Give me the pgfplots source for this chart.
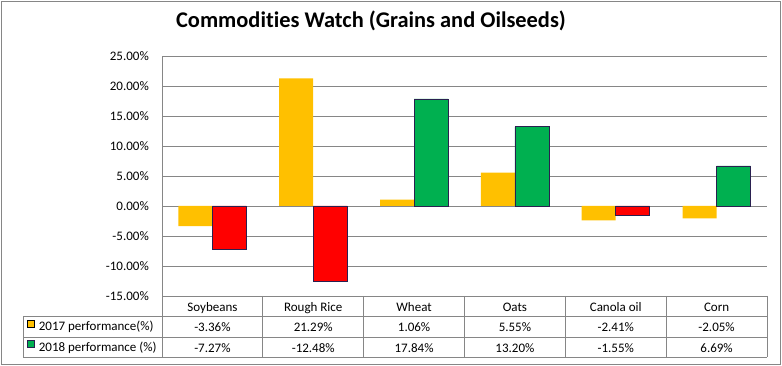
\documentclass[border=0pt]{standalone}
\usepackage{fontspec}
\setmainfont{Carlito}[Ligatures={NoCommon}]
\usepackage{pgfplots}
\usepackage{pgfplotstable}
\pgfplotsset{compat=1.18}
\definecolor{cyel}{HTML}{FFC000}
\definecolor{cred}{HTML}{FF0000}
\definecolor{cgrn}{HTML}{00B050}
\definecolor{cgrid}{HTML}{868686}
\definecolor{cedge}{HTML}{2A2050}

\pgfplotstableread{
idx name y17 y18
0 Soybeans -3.36 -7.27
1 {Rough Rice} 21.29 -12.48
2 Wheat 1.06 17.84
3 Oats 5.55 13.20
4 {Canola oil} -2.41 -1.55
5 Corn -2.05 6.69
}\datatable

\newcommand{\tabfont}{\fontsize{13bp}{15bp}\selectfont}

\begin{document}
\begin{tikzpicture}
\path[use as bounding box] (0,0) rectangle (782bp,366bp);
\draw[cgrid, line width=1bp] (1.5bp,1.5bp) rectangle (780bp,364.5bp);
\node[font=\fontsize{22.4bp}{26bp}\selectfont\bfseries, anchor=base, inner sep=0] at (371bp,338bp) {Commodities Watch (Grains and Oilseeds)};
\begin{axis}[
  at={(162bp,70bp)}, anchor=south west,
  scale only axis, width=605bp, height=240bp,
  xmin=-0.5, xmax=5.5, ymin=-15, ymax=25,
  ytick={-15,-10,...,25},
  xtick={0,...,5},
  xticklabels from table={\datatable}{name},
  ybar, bar width=34bp,
  axis lines*=left,
  axis line style={cgrid, line width=0.8bp},
  ymajorgrids, grid style={cgrid, line width=0.8bp},
  major tick length=0pt,
  clip=false,
  /pgf/number format/assume math mode=true,
  yticklabel={\pgfmathprintnumber[fixed,fixed zerofill,precision=2]{\tick}\%},
  yticklabel style={font=\tabfont, anchor=east, inner xsep=0pt, xshift=-13bp},
  xticklabel style={font=\tabfont, anchor=base, yshift=-15bp},
  legend image code/.code={\draw[#1] (0bp,0bp) rectangle (7.5bp,7bp);},
  legend style={at={(axis description cs:-0.2236,-0.0875)}, anchor=north west,
    draw=none, fill=none, inner sep=0pt, outer sep=0pt, row sep=0pt, column sep=4bp,
    font=\tabfont, nodes={inner sep=0pt, text height=14bp, text depth=6.5bp}},
  legend cell align=left,
]
\addplot[fill=cyel, draw=none, bar shift=-17bp] table[x=idx, y=y17] {\datatable};
\addlegendentry{2017 performance(\%)}
\addplot[fill=cgrn, draw=cedge, line width=0.6bp, bar shift=17bp, restrict y to domain=0:100] table[x=idx, y=y18] {\datatable};
\addlegendentry{2018 performance (\%)}
\addplot[fill=cred, draw=cedge, line width=0.6bp, bar shift=17bp, restrict y to domain=-100:0, forget plot] table[x=idx, y=y18] {\datatable};
\end{axis}
% data table grid
\begin{scope}[cgrid, line width=0.8bp]
\draw (23bp,49.5bp) -- (767bp,49.5bp);
\draw (23bp,29bp) -- (767bp,29bp);
\draw (23bp,8.5bp) -- (767bp,8.5bp);
\draw (23bp,49.5bp) -- (23bp,8.5bp);
\foreach \k in {0,...,6}{
  \draw ({162bp+100.8333bp*\k},70bp) -- ({162bp+100.8333bp*\k},8.5bp);
}
\end{scope}
\foreach \i in {0,...,5}{
  \pgfplotstablegetelem{\i}{y17}\of\datatable
  \let\va\pgfplotsretval
  \pgfplotstablegetelem{\i}{y18}\of\datatable
  \let\vb\pgfplotsretval
  \node[font=\tabfont, anchor=base, inner sep=0pt] at ({162bp+100.8333bp*(\i+0.5)},34.5bp)
    {\pgfmathprintnumber[fixed,fixed zerofill,precision=2,assume math mode=true]{\va}\%};
  \node[font=\tabfont, anchor=base, inner sep=0pt] at ({162bp+100.8333bp*(\i+0.5)},14bp)
    {\pgfmathprintnumber[fixed,fixed zerofill,precision=2,assume math mode=true]{\vb}\%};
}
\end{tikzpicture}
\end{document}
